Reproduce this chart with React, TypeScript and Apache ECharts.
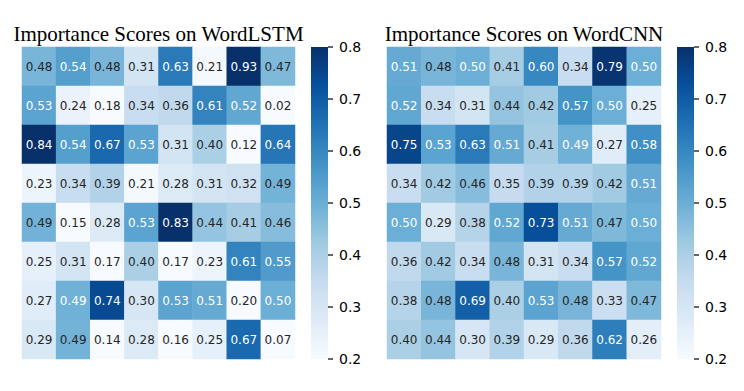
import React, { useEffect, useRef } from "react";
import * as echarts from "echarts";

const lstmTitle = "Importance Scores on WordLSTM";
const cnnTitle = "Importance Scores on WordCNN";

const lstmRows: number[][] = [
  [0.48, 0.54, 0.48, 0.31, 0.63, 0.21, 0.93, 0.47],
  [0.53, 0.24, 0.18, 0.34, 0.36, 0.61, 0.52, 0.02],
  [0.84, 0.54, 0.67, 0.53, 0.31, 0.40, 0.12, 0.64],
  [0.23, 0.34, 0.39, 0.21, 0.28, 0.31, 0.32, 0.487],
  [0.488, 0.15, 0.28, 0.53, 0.83, 0.44, 0.41, 0.46],
  [0.25, 0.31, 0.17, 0.40, 0.17, 0.23, 0.61, 0.55],
  [0.27, 0.493, 0.74, 0.30, 0.53, 0.51, 0.20, 0.50],
  [0.29, 0.487, 0.14, 0.28, 0.16, 0.25, 0.67, 0.07],
];

const cnnRows: number[][] = [
  [0.51, 0.48, 0.50, 0.41, 0.60, 0.34, 0.79, 0.50],
  [0.52, 0.34, 0.31, 0.44, 0.42, 0.57, 0.50, 0.25],
  [0.75, 0.53, 0.63, 0.51, 0.41, 0.492, 0.27, 0.58],
  [0.34, 0.42, 0.46, 0.35, 0.39, 0.39, 0.42, 0.51],
  [0.50, 0.29, 0.38, 0.52, 0.73, 0.51, 0.47, 0.50],
  [0.36, 0.42, 0.34, 0.48, 0.31, 0.34, 0.57, 0.52],
  [0.38, 0.48, 0.69, 0.40, 0.53, 0.48, 0.33, 0.47],
  [0.40, 0.44, 0.30, 0.39, 0.29, 0.36, 0.62, 0.26],
];

const colorbarTicks = [0.2, 0.3, 0.4, 0.5, 0.6, 0.7, 0.8];
const vMin = 0.2;
const vMax = 0.8;
const blues = ["#f7fbff", "#deebf7", "#c6dbef", "#9ecae1", "#6baed6", "#4292c6", "#2171b5", "#08519c", "#08306b"];
const cols = [0, 1, 2, 3, 4, 5, 6, 7];

function toData(rows: number[][]) {
  const out: any[] = [];
  rows.forEach((row, y) => {
    row.forEach((v, x) => {
      const c = Math.min(vMax, Math.max(vMin, v));
      out.push({
        value: [x, y, c, v],
        label: { color: v >= 0.49 ? "#ffffff" : "#262626" },
      });
    });
  });
  return out;
}

export default function App() {
  const ref = useRef<HTMLDivElement>(null);
  useEffect(() => {
    document.body.style.margin = "0";
    const chart = echarts.init(ref.current!, null, { renderer: "svg" });
    const heatGrids = [
      { left: 22, top: 47, width: 273, height: 312 },
      { left: 387, top: 47, width: 274, height: 312 },
    ];
    const barGrids = [
      { left: 311, top: 47, width: 17, height: 312 },
      { left: 677, top: 47, width: 17, height: 312 },
    ];
    const catX = (gi: number) => ({
      type: "category", gridIndex: gi, data: cols, show: false,
    });
    const catY = (gi: number) => ({
      type: "category", gridIndex: gi, data: cols, show: false, inverse: true,
    });
    const barY = (gi: number) => ({
      type: "value", gridIndex: gi, position: "right", min: vMin, max: vMax, interval: 0.1,
      splitLine: { show: false },
      axisLine: { show: false, onZero: false },
      axisTick: { show: false },
      axisLabel: {
        margin: 11, fontSize: 14, color: "#000", fontFamily: "DejaVu Sans",
        formatter: (v: number) => {
          const t = colorbarTicks.find((k) => Math.abs(k - v) < 1e-6);
          return t !== undefined ? t.toFixed(1) : "";
        },
      },
    });
    const barX = (gi: number) => ({ type: "value", gridIndex: gi, min: 0, max: 1, show: false });
    const labelStyle = {
      show: true, fontSize: 12, fontFamily: "DejaVu Sans",
      formatter: (p: any) => Number(p.value[3]).toFixed(2),
    };
    const gradStops = blues.map((c, i) => ({ offset: 1 - i / (blues.length - 1), color: c }));
    gradStops.reverse();
    const colorbarSeries = (gi: number) => ({
      type: "custom", xAxisIndex: gi, yAxisIndex: gi, silent: true, clip: false, z: 1,
      data: [[vMin, vMax]],
      renderItem: (params: any, api: any) => {
        const p0 = api.coord([0, api.value(1)]);
        const p1 = api.coord([1, api.value(0)]);
        return {
          type: "rect",
          shape: { x: p0[0], y: p0[1], width: p1[0] - p0[0], height: p1[1] - p0[1] },
          style: { fill: new echarts.graphic.LinearGradient(0, 0, 0, 1, gradStops) },
        };
      },
    });
    const tickSeries = (gi: number) => ({
      type: "custom", xAxisIndex: gi, yAxisIndex: gi, silent: true, clip: false, z: 5,
      data: colorbarTicks.map((t) => [t]),
      renderItem: (params: any, api: any) => {
        const p = api.coord([1, api.value(0)]);
        return {
          type: "line",
          shape: { x1: p[0], y1: p[1], x2: p[0] + 5, y2: p[1] },
          style: { stroke: "#000", lineWidth: 1.2 },
        };
      },
    });
    const titleStyle = { fontFamily: "Liberation Serif", fontSize: 21, fontWeight: "normal", color: "#000" };
    chart.setOption({
      animation: false,
      title: [
        { text: lstmTitle, left: 158.5, top: 23, padding: 0, textAlign: "center", textStyle: titleStyle },
        { text: cnnTitle, left: 524, top: 23, padding: 0, textAlign: "center", textStyle: titleStyle },
      ],
      grid: [...heatGrids, ...barGrids],
      xAxis: [catX(0), catX(1), barX(2), barX(3)],
      yAxis: [catY(0), catY(1), barY(2), barY(3)],
      visualMap: [
        { type: "continuous", show: false, min: vMin, max: vMax, dimension: 2, seriesIndex: 0,
          inRange: { color: blues } },
        { type: "continuous", show: false, min: vMin, max: vMax, dimension: 2, seriesIndex: 1,
          inRange: { color: blues } },
      ],
      series: [
        { type: "heatmap", xAxisIndex: 0, yAxisIndex: 0, data: toData(lstmRows),
          label: labelStyle, emphasis: { disabled: true } },
        { type: "heatmap", xAxisIndex: 1, yAxisIndex: 1, data: toData(cnnRows),
          label: labelStyle, emphasis: { disabled: true } },
        colorbarSeries(2),
        colorbarSeries(3),
        tickSeries(2),
        tickSeries(3),
      ],
    });
    return () => chart.dispose();
  }, []);
  return <div ref={ref} style={{ width: 744, height: 391 }} />;
}
